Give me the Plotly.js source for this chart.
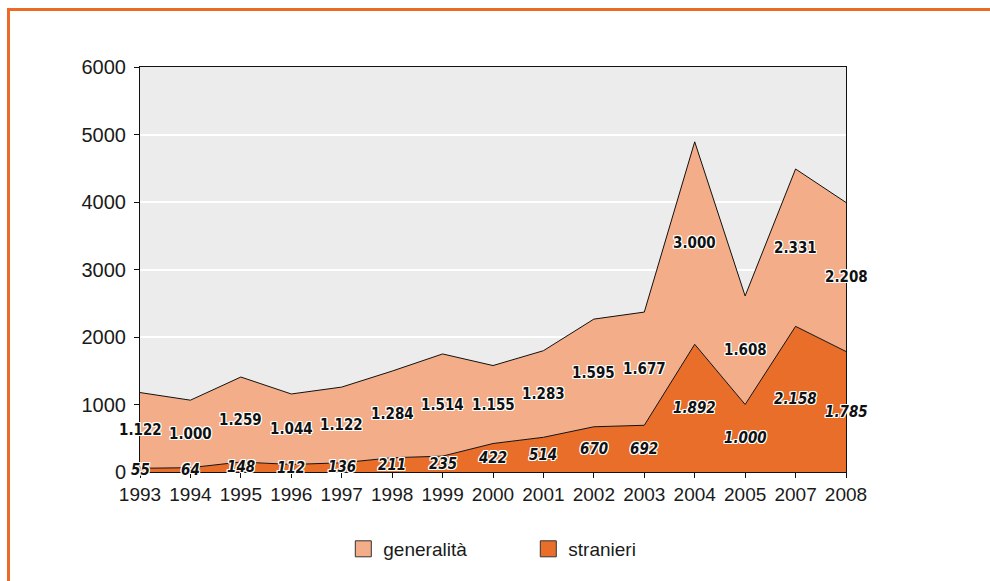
<!DOCTYPE html>
<html>
<head>
<meta charset="utf-8">
<script src="https://cdn.plot.ly/plotly-3.0.1.min.js"></script>
<style>
  body { margin: 0; background: #fff; }
  #frame { position: absolute; left: 7px; top: 8px; width: 1000px; height: 600px;
           border-top: 3px solid #ea6a26; border-left: 3px solid #ea6a26; }
  #myPlot { position: absolute; left: 0; top: 0; width: 990px; height: 581px; }
</style>
</head>
<body>
<div id="frame"></div>
<div id="myPlot"></div>
<script>
// years on the x axis (2006 is missing in the source)
var years = ['1993', '1994', '1995', '1996', '1997', '1998', '1999', '2000',
             '2001', '2002', '2003', '2004', '2005', '2007', '2008'];
var stranieri = [55, 64, 148, 112, 136, 211, 235, 422, 514, 670, 692, 1892, 1000, 2158, 1785];
var generalita = [1122, 1000, 1259, 1044, 1122, 1284, 1514, 1155, 1283, 1595, 1677, 3000, 1608, 2331, 2208];

var darkOrange = '#e96e2a';
var lightOrange = '#f3ae89';

// italian thousands separator
function fmt(v) {
    return String(v).replace(/\B(?=(\d{3})+(?!\d))/g, '.');
}

var data = [
    { x: years, y: stranieri, name: 'stranieri', type: 'scatter', mode: 'lines',
      stackgroup: 'one', fillcolor: darkOrange, line: { color: '#111', width: 1 },
      showlegend: false, hoverinfo: 'x+y' },
    { x: years, y: generalita, name: 'generalità', type: 'scatter', mode: 'lines',
      stackgroup: 'one', fillcolor: lightOrange, line: { color: '#111', width: 1 },
      showlegend: false, hoverinfo: 'x+y' },
    // legend swatches
    { x: [null], y: [null], name: 'generalità', type: 'scatter', mode: 'markers',
      marker: { symbol: 'square', size: 17, color: lightOrange, line: { color: '#333', width: 1 } } },
    { x: [null], y: [null], name: 'stranieri', type: 'scatter', mode: 'markers',
      marker: { symbol: 'square', size: 17, color: darkOrange, line: { color: '#333', width: 1 } } }
];

var halo = '1px 1px 0 #fff, -1px -1px 0 #fff, 1px -1px 0 #fff, -1px 1px 0 #fff, 0 1px 0 #fff, 0 -1px 0 #fff, 1px 0 0 #fff, -1px 0 0 #fff';
var labelFont = 'DejaVu Sans Condensed, Liberation Sans Narrow, sans-serif';
var annotations = [];
for (var i = 0; i < years.length; i++) {
    annotations.push({
        x: i, y: stranieri[i] / 2, xref: 'x', yref: 'y', showarrow: false,
        text: fmt(stranieri[i]),
        font: { family: labelFont, size: 15, weight: 'bold', style: 'italic',
                color: '#111', shadow: halo }
    });
    annotations.push({
        x: i, y: stranieri[i] + generalita[i] / 2, xref: 'x', yref: 'y', showarrow: false,
        text: fmt(generalita[i]),
        font: { family: labelFont, size: 15, weight: 'bold', color: '#111', shadow: halo }
    });
}

var layout = {
    width: 990,
    height: 581,
    margin: { l: 140, r: 144, t: 67, b: 109 },
    paper_bgcolor: 'rgba(0,0,0,0)',
    plot_bgcolor: '#ebeceb',
    font: { family: 'Liberation Sans, Arial, sans-serif', size: 19, color: '#1a1a1a' },
    xaxis: {
        type: 'category', range: [0, 14], showgrid: false,
        showline: true, linecolor: '#111', linewidth: 1, mirror: true,
        ticks: 'outside', ticklen: 5, tickcolor: '#111',
        tickfont: { size: 19 }
    },
    yaxis: {
        range: [0, 6000], dtick: 1000, gridcolor: '#ffffff', gridwidth: 2,
        showline: true, linecolor: '#111', linewidth: 1, mirror: true,
        ticks: 'outside', ticklen: 5, tickcolor: '#111', zeroline: false,
        ticklabelstandoff: 4, tickfont: { size: 20 }
    },
    showlegend: true,
    legend: {
        orientation: 'h', traceorder: 'normal', x: 0.55, xanchor: 'center', y: -0.19, yanchor: 'middle',
        entrywidth: 140, font: { size: 19 }, bgcolor: 'rgba(0,0,0,0)'
    },
    annotations: annotations
};

Plotly.newPlot('myPlot', data, layout, { displayModeBar: false });
</script>
</body>
</html>
